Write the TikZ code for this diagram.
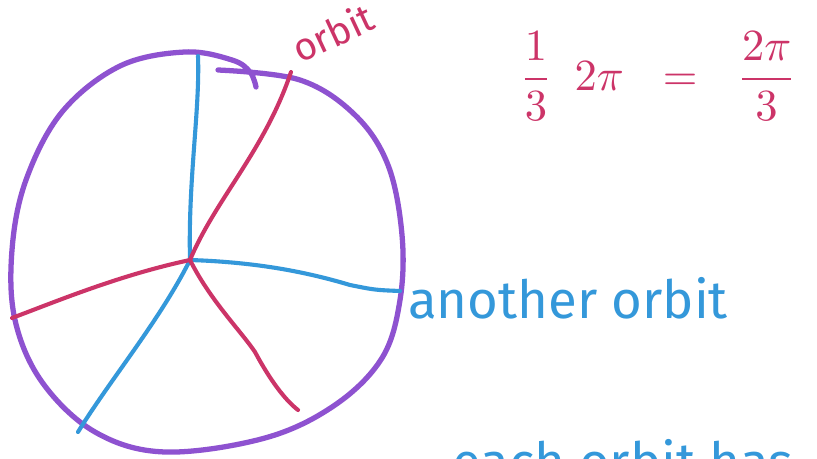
\documentclass[tikz,border=0pt]{standalone}
\usepackage{fontspec}
\setmainfont{Fira Sans}
\usepackage{graphicx}
\usepackage{tikz}
\usetikzlibrary{calc}
\definecolor{orbpurple}{RGB}{142,82,208}
\definecolor{orbred}{RGB}{204,52,104}
\definecolor{orbblue}{RGB}{52,152,218}
\tikzset{
  pen/.style={line width=4.5pt,line cap=round,line join=round},
  rim/.style={pen,draw=orbpurple},
  redray/.style={pen,draw=orbred,line width=3.5pt},
  blueray/.style={pen,draw=orbblue,line width=3.5pt},
  scribble/.style={inner sep=0pt,anchor=base west},
}
\begin{document}
\begin{tikzpicture}[x=0.03cm,y=-0.03cm]
  \clip (0,0) rectangle (817,459);
  \fill[white] (0,0) rectangle (817,459);
  % the orbit circle
  \draw[rim] plot[smooth,tension=0.6] coordinates {
    (218,70) (300,80) (355,115) (388,165) (402,235)
    (400,300) (382,358) (335,405) (265,438) (165,452) (95,432)
    (42,382) (15,320) (12,250) (26,180) (62,112) (120,66) (185,52)
    (232,60) (250,72) (256,87)};
  \coordinate (c) at (190,260);
  % blue rays
  \draw[blueray] (c) .. controls (188,180) and (200,110) .. (198,56);
  \draw[blueray] (c) .. controls (250,262) and (300,270) .. (350,285)
                     .. controls (375,290) .. (400,291);
  \draw[blueray] (c) .. controls (160,320) and (110,380) .. (78,432);
  % red rays
  \draw[redray] (c) .. controls (215,200) and (265,150) .. (291,72);
  \draw[redray] (c) .. controls (120,275) and (60,300) .. (12,318);
  \draw[redray] (c) .. controls (210,300) and (240,330) .. (255,352)
                    .. controls (270,380) and (285,400) .. (298,410);
  % labels
  \node[scribble,text=orbred,rotate=25,font=\fontsize{33}{36}\selectfont] (lab1) at (300,64) {orbit};
  \node[text=orbred] (frm) at (658,76)
    {\scalebox{3.8}{$\displaystyle\frac{1}{3}\hspace{0.5em}2\pi\hspace{0.6em}=\hspace{0.6em}\frac{2\pi}{3}$}};
  \node[scribble,text=orbblue,font=\fontsize{45}{48}\selectfont] (lab2) at (408,318) {another orbit};
  \node[scribble,text=orbblue,font=\fontsize{45}{48}\selectfont] (lab3) at (452,480) {each orbit has};
\end{tikzpicture}
\end{document}
